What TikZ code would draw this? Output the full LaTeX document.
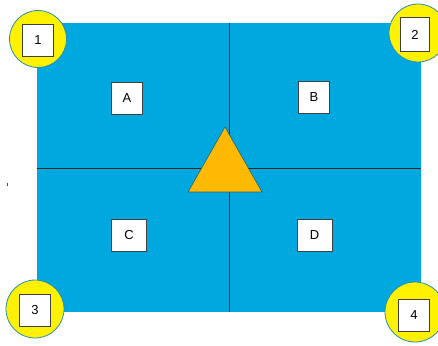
\documentclass[tikz,border=0pt]{standalone}
\usepackage{fontspec}
\setmainfont{Liberation Sans}
\definecolor{fieldblue}{HTML}{00A8E0}
\definecolor{edgeblue}{HTML}{2A8CB0}
\definecolor{tri}{HTML}{FFB900}
\begin{document}
\begin{tikzpicture}[x=1pt,y=-1pt,
  lab/.style={draw=black!75,fill=white,line width=0.9pt,minimum width=#1,minimum height=32pt,inner sep=0pt,font=\fontsize{13}{15}\selectfont},
  lab/.default=31pt,
  spot/.style={draw=edgeblue,fill=yellow,line width=0.8pt},
  divider/.style={draw=black!85,line width=0.9pt}]
\useasboundingbox (0,0) rectangle (438,345);
\node[draw=none,fill=fieldblue,minimum width=384pt,minimum height=289pt,inner sep=0pt,anchor=north west] (field) at (37,23) {};
\coordinate (vt) at (229,23);
\coordinate (vb) at (229,312);
\coordinate (hl) at (37,168);
\coordinate (hr) at (421,168);
\draw[divider] (vt) -- (vb);
\draw[divider] (hl) -- (hr);
\draw[draw=edgeblue!70!black,fill=tri,line width=0.6pt,line join=round] (225,127) -- (262,192) -- (188,192) -- cycle;
\node[lab] (A) at (127,98.5) {A};
\node[lab] (B) at (314,97.5) {B};
\node[lab=35pt] (C) at (129,235) {C};
\node[lab=35pt] (D) at (314.5,235.5) {D};
\draw[spot] (38,39) circle (28.5);
\draw[spot] (418,33) circle (29);
\draw[spot] (35,309) circle (29);
\draw[spot] (415,312) circle (30);
\node[lab] (n1) at (38,40) {1};
\node[lab=29pt,minimum height=34pt] (n2) at (415,34.5) {2};
\node[lab] (n3) at (35,310) {3};
\node[lab] (n4) at (414,315.5) {4};
\fill[black!70] (6.5,183) rectangle (7.5,185.5);
\end{tikzpicture}
\end{document}
